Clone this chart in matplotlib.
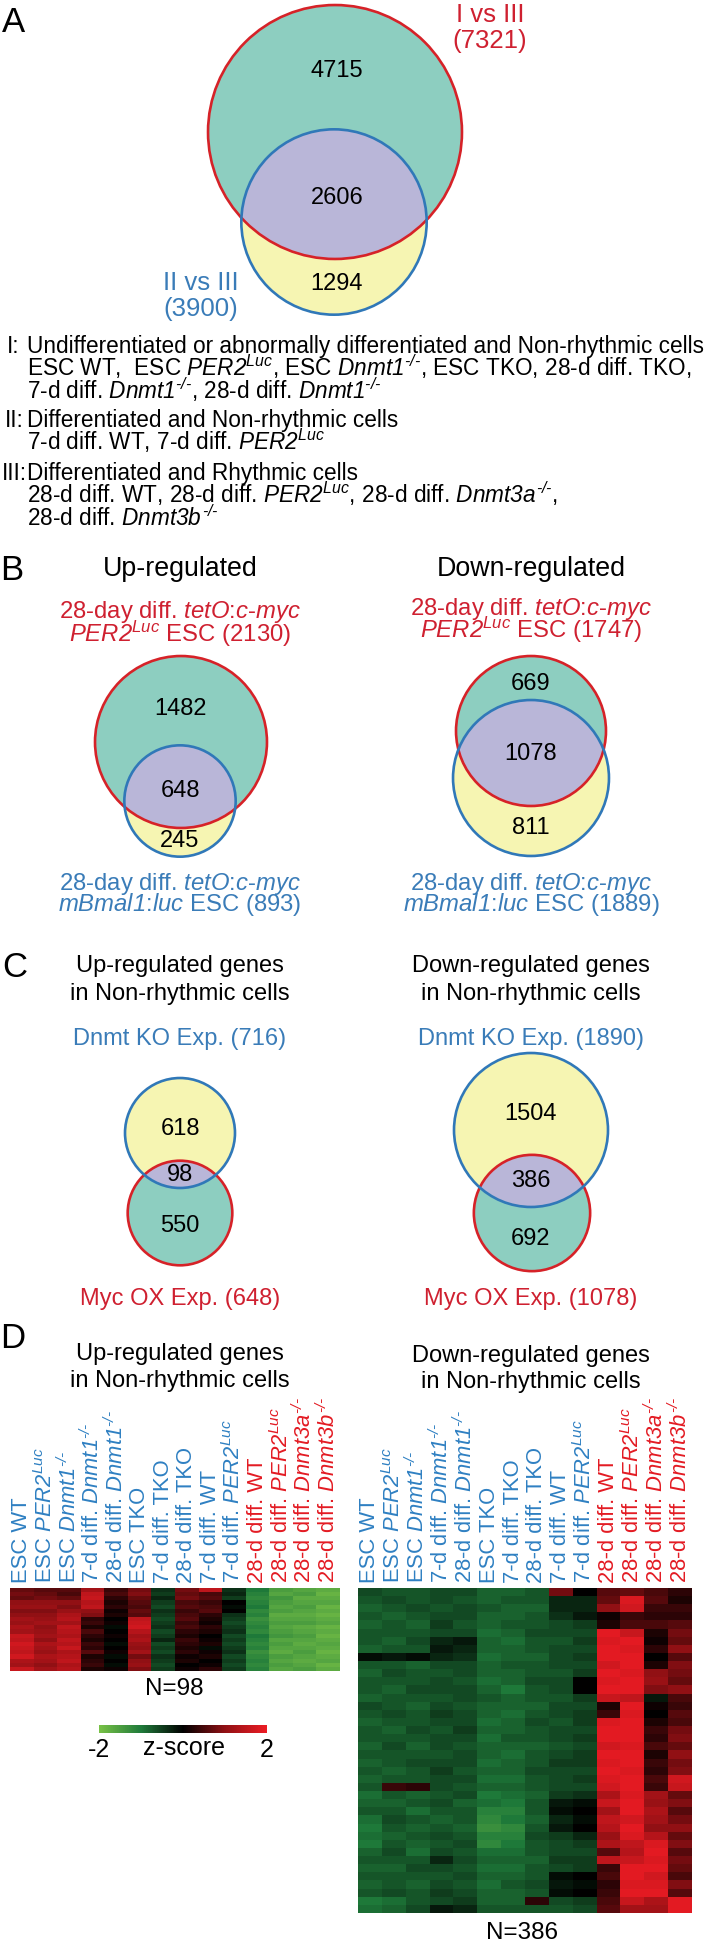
import numpy as np
import matplotlib.pyplot as plt
from matplotlib.patches import Circle
from matplotlib.colors import LinearSegmentedColormap

plt.rcParams['font.family'] = ['Liberation Sans', 'DejaVu Sans']
plt.rcParams['mathtext.fontset'] = 'custom'
# italic for everything inside $...$ (gene names, digits and superscripts)
plt.rcParams['mathtext.rm'] = 'Liberation Sans:italic'
plt.rcParams['mathtext.it'] = 'Liberation Sans:italic'
plt.rcParams['mathtext.bf'] = 'Liberation Sans:bold'
plt.rcParams['mathtext.sf'] = 'Liberation Sans:italic'

# ---- data ----
# venn counts: (only first set, overlap, only second set), totals (first, second)
a_counts = [4715, 2606, 1294]
a_totals = [7321, 3900]            # I vs III, II vs III
b_up_counts = [1482, 648, 245]
b_up_totals = [2130, 893]          # PER2Luc, mBmal1:luc
b_dn_counts = [669, 1078, 811]
b_dn_totals = [1747, 1889]
c_up_counts = [618, 98, 550]
c_up_totals = [716, 648]           # Dnmt KO, Myc OX
c_dn_counts = [1504, 386, 692]
c_dn_totals = [1890, 1078]

n_up = 98
n_down = 386

samples = ["ESC WT", "ESC PER2", "ESC Dnmt1", "7-d diff. Dnmt1", "28-d diff. Dnmt1",
           "ESC TKO", "7-d diff. TKO", "28-d diff. TKO", "7-d diff. WT", "7-d diff. PER2",
           "28-d diff. WT", "28-d diff. PER2", "28-d diff. Dnmt3a", "28-d diff. Dnmt3b"]
rhythmic = [False] * 10 + [True] * 4

# heatmap z-scores, one list per sample (row bands from top to bottom)
up_z = [
    [0.7, 0.8, 0.7, 1.0, 1.1, 0.9, 1.0, 1.2, 1.1, 1.3, 1.2, 1.6, 1.5, 1.7, 1.6, 1.5, 1.7, 1.3, 1.2, 1.6],
    [0.6, 0.7, 0.8, 1.0, 1.1, 0.9, 1.0, 1.1, 1.2, 1.0, 1.1, 1.2, 1.0, 1.3, 1.2, 1.1, 1.3, 1.2, 1.0, 1.2],
    [0.6, 0.5, 0.7, 1.0, 0.9, 1.1, 1.3, 1.4, 1.2, 1.5, 1.4, 1.3, 1.5, 1.4, 1.6, 1.3, 1.4, 1.5, 1.3, 1.4],
    [1.2, 1.5, 1.6, 1.4, 1.5, 1.0, 0.9, 0.3, 0.4, 0.2, 0.5, 0.3, 0.2, 0.4, 0.3, 0.6, 0.2, 0.3, 0.4, 0.2],
    [0.4, 0.5, 0.3, 0.2, 0.3, 0.1, 0.2, 0.0, 0.1, -0.1, 0.0, 0.1, 0.0, -0.1, 0.0, 0.1, -0.1, 0.0, -0.1, 0.1],
    [0.8, 0.9, 0.7, 0.6, 0.5, 0.7, 0.6, 1.5, 1.6, 1.7, 1.4, 1.2, 1.3, 1.1, 1.0, 1.2, 0.8, 1.0, 1.1, 0.9],
    [-0.4, -0.5, -0.3, -0.5, -0.6, -0.4, -0.5, -0.6, -0.5, -0.4, -0.6, -0.5, -0.3, -0.6, -0.5, -0.6, -0.4, -0.5, -0.6, -0.5],
    [0.8, 0.7, 0.8, 0.5, 0.6, 0.4, 0.5, 0.6, 0.4, 0.5, 0.3, 0.2, 0.4, 0.3, 0.2, 0.3, 0.1, 0.2, 0.0, 0.1],
    [1.5, 0.5, 0.6, 0.4, 0.5, 0.6, 0.3, 0.2, 0.1, 0.3, 0.2, 0.0, 0.1, 0.2, -0.1, 0.1, 0.2, 0.0, 0.1, 0.3],
    [-0.4, -0.3, -0.5, 0.0, -0.1, 0.0, -0.4, -0.5, -0.6, -0.5, -0.4, -0.6, -0.5, -0.6, -0.5, -0.4, -0.6, -0.5, -0.6, -0.5],
    [-1.0, -1.1, -1.2, -1.1, -1.0, -1.2, -1.1, -1.3, -1.2, -1.1, -1.2, -1.0, -1.1, -1.2, -1.1, -1.3, -1.2, -1.1, -1.2, -1.1],
    [-1.5, -1.6, -1.4, -1.5, -1.6, -1.5, -1.7, -1.6, -1.5, -1.6, -1.5, -1.4, -1.6, -1.5, -1.6, -1.7, -1.5, -1.6, -1.5, -1.6],
    [-1.6, -1.5, -1.7, -1.6, -1.5, -1.6, -1.7, -1.6, -1.5, -1.7, -1.6, -1.5, -1.6, -1.7, -1.6, -1.5, -1.6, -1.7, -1.6, -1.5],
    [-1.7, -1.8, -1.7, -1.6, -1.8, -1.7, -1.8, -1.7, -1.6, -1.8, -1.7, -1.8, -1.7, -1.6, -1.7, -1.8, -1.7, -1.6, -1.8, -1.7],
]
down_z = [
    [-0.6, -0.7, -0.8, -0.7, -0.8, -0.7, -0.7, -0.8, -0.1, -0.7, -0.8, -0.7, -0.7, -0.8, -0.6, -0.7, -0.8, -0.7, -0.7, -0.8,
     -0.7, -0.8, -0.7, -0.8, -0.7, -0.9, -0.8, -0.7, -0.9, -1.0, -0.9, -1.0, -0.8, -0.7, -0.8, -0.7, -0.8, -0.7, -1.0, -0.9],
    [-0.7, -0.6, -0.7, -0.8, -0.7, -0.7, -0.8, -0.7, -0.2, -0.7, -0.6, -0.7, -0.8, -0.7, -0.7, -0.6, -0.7, -0.8, -0.7, -0.6,
     -0.7, -0.7, -0.8, -0.7, 0.4, -0.7, -0.8, -0.7, -0.6, -0.7, -0.8, -0.7, -0.6, -0.7, -0.8, -0.7, -0.7, -0.6, -0.9, -0.8],
    [-0.7, -0.7, -0.6, -0.7, -0.8, -0.7, -0.6, -0.7, -0.1, -0.8, -0.7, -0.7, -0.6, -0.7, -0.8, -0.7, -0.7, -0.6, -0.7, -0.8,
     -0.7, -0.6, -0.7, -0.7, 0.3, -0.8, -0.7, -0.9, -0.7, -0.8, -0.7, -0.8, -0.9, -0.7, -0.6, -0.7, -0.8, -0.7, -0.7, -0.6],
    [-0.6, -0.6, -0.7, -0.6, -0.5, -0.6, -0.3, -0.2, -0.3, -0.6, -0.7, -0.6, -0.6, -0.7, -0.6, -0.5, -0.6, -0.7, -0.6, -0.6,
     -0.7, -0.6, -0.5, -0.6, -0.6, -0.7, -0.6, -0.7, -0.8, -0.7, -0.6, -0.7, -0.6, -0.3, -0.6, -0.7, -0.6, -0.5, -0.6, -0.2],
    [-0.6, -0.7, -0.6, -0.6, -0.7, -0.6, -0.2, -0.3, -0.4, -0.6, -0.6, -0.7, -0.6, -0.6, -0.7, -0.6, -0.6, -0.5, -0.6, -0.7,
     -0.6, -0.6, -0.7, -0.6, -0.7, -0.6, -0.8, -0.7, -0.7, -0.8, -0.7, -0.6, -0.7, -0.6, -0.7, -0.6, -0.7, -0.6, -0.5, -0.3],
    [-0.8, -0.8, -0.7, -0.8, -0.8, -0.9, -0.8, -0.8, -0.9, -0.8, -0.8, -0.9, -0.8, -0.7, -0.8, -0.8, -0.9, -0.8, -0.9, -0.8,
     -0.8, -0.9, -0.8, -0.9, -0.8, -1.0, -0.9, -1.1, -1.2, -1.3, -1.1, -1.2, -0.9, -0.8, -0.9, -0.8, -0.9, -0.8, -0.8, -0.7],
    [-0.8, -0.7, -0.8, -0.8, -0.7, -0.8, -0.9, -0.8, -0.8, -0.7, -0.8, -0.8, -1.0, -0.8, -0.8, -0.9, -0.8, -0.8, -0.7, -0.8,
     -0.9, -0.8, -0.8, -0.9, -0.8, -0.9, -1.0, -1.1, -1.0, -1.2, -1.1, -1.0, -0.9, -0.8, -0.9, -0.8, -0.7, -0.8, -0.8, -0.7],
    [-0.7, -0.7, -0.8, -0.7, -0.7, -0.6, -0.7, -0.7, -0.8, -0.7, -0.7, -0.6, -0.7, -0.7, -0.8, -0.7, -0.6, -0.7, -0.7, -0.8,
     -0.7, -0.7, -0.6, -0.7, -0.7, -0.8, -0.7, -0.7, -0.8, -0.7, -0.6, -0.7, -0.7, -0.8, -0.7, -0.7, -0.6, -0.7, 0.3, -0.7],
    [0.8, -0.3, -0.3, -0.4, -0.6, -0.6, -0.7, -0.6, -0.6, -0.6, -0.7, -0.6, -0.6, -0.7, -0.6, -0.6, -0.7, -0.6, -0.6, -0.7,
     -0.6, -0.5, -0.6, -0.6, -0.6, -0.5, -0.2, -0.1, -0.3, -0.2, -0.5, -0.6, -0.6, -0.5, -0.6, -0.1, -0.2, -0.1, -0.6, -0.7],
    [0.0, -0.3, -0.3, -0.2, -0.5, -0.6, -0.5, -0.6, -0.5, -0.6, -0.5, 0.0, 0.0, -0.5, -0.6, -0.5, -0.5, -0.6, -0.5, -0.6,
     -0.5, -0.5, -0.6, -0.5, -0.6, -0.4, -0.1, 0.0, -0.1, 0.0, -0.3, -0.5, -0.6, -0.5, -0.5, 0.0, -0.1, 0.0, -0.5, -0.6],
    [0.6, 0.7, 1.0, 0.1, 0.2, 1.9, 1.8, 1.9, 1.9, 1.7, 1.9, 1.8, 1.9, 1.6, 0.2, 0.4, 1.8, 1.9, 1.9, 1.7,
     1.9, 1.8, 1.9, 1.8, 1.7, 1.3, 1.6, 1.2, 1.5, 1.4, 1.1, 1.3, 0.6, 1.5, 0.4, 0.5, 0.3, 0.4, 0.5, 0.6],
    [0.7, 1.8, 1.7, 0.4, 0.5, 1.6, 1.9, 1.8, 1.9, 1.9, 1.8, 1.9, 1.9, 1.5, 1.9, 1.8, 1.9, 1.9, 1.9, 1.8,
     1.9, 1.9, 1.8, 1.9, 1.9, 1.8, 1.9, 1.9, 1.7, 1.9, 1.8, 1.5, 1.4, 1.6, 1.9, 1.9, 1.8, 1.9, 1.6, 1.2],
    [0.5, 0.6, 0.4, 0.3, 0.5, 0.2, 0.1, 0.3, 0.0, 0.2, 1.0, 1.1, 0.9, -0.2, 0.1, 0.0, 0.2, 0.4, 0.3, 0.5,
     0.2, 0.4, 0.3, 0.5, 0.4, 1.2, 1.1, 1.3, 1.2, 1.0, 1.4, 1.8, 1.9, 1.8, 1.9, 1.7, 1.8, 1.9, 1.3, 1.2],
    [0.3, 0.2, 0.4, 0.3, 0.6, 0.8, 0.7, 1.0, 0.6, 0.9, 0.8, 0.7, 1.0, 0.5, 0.4, 0.6, 0.5, 0.8, 0.9, 0.7,
     1.0, 0.8, 0.9, 1.7, 1.6, 0.7, 0.9, 0.6, 0.8, 1.0, 0.7, 0.9, 0.6, 0.8, 0.7, 0.5, 0.9, 0.6, 1.9, 1.9],
]

# ---- styles ----
RED = '#cf2030'
BLUE = '#3a7cb8'
HRED = '#e31b23'
HBLUE = '#2f80c2'
TEAL = '#8dcec0'
LAV = '#b9b6d8'
YEL = '#f6f5b2'
EDGE_R = '#d62228'
EDGE_B = '#3078b8'

zcmap = LinearSegmentedColormap.from_list(
    'gkr', ['#78c146', '#1f7a3a', '#000000', '#901014', '#ec1c24'])

W, H = 716, 1942
fig = plt.figure(figsize=(W / 100, H / 100), dpi=100)
ax = fig.add_axes([0, 0, 1, 1])
ax.set_xlim(0, W)
ax.set_ylim(H, 0)
ax.axis('off')

PER2 = r"$PER2^{Luc}$"
MYC = r"$tetO$:$c$-$myc$"
BMAL = r"$mBmal1$:$luc$"


def ko(g):
    # short hyphens (U+2010) so the superscript stays "-/-" and not minus signs
    return "$" + g + "^{\u2010/\u2010}$"


def txt(x, y, s, size, color='black', ha='center'):
    ax.text(x, y, s, fontsize=size, color=color, ha=ha, va='baseline')


def venn(red_total, blue_total, red_xy, blue_xy, scale):
    rr = scale * np.sqrt(red_total)
    rb = scale * np.sqrt(blue_total)
    ax.add_patch(Circle(blue_xy, rb, fc=YEL, ec='none', zorder=1))
    red_fill = Circle(red_xy, rr, fc=TEAL, ec='none', zorder=2)
    ax.add_patch(red_fill)
    inter = Circle(blue_xy, rb, fc=LAV, ec='none', zorder=3)
    ax.add_patch(inter)
    inter.set_clip_path(red_fill)
    ax.add_patch(Circle(red_xy, rr, fc='none', ec=EDGE_R, lw=1.9, zorder=4))
    ax.add_patch(Circle(blue_xy, rb, fc='none', ec=EDGE_B, lw=1.9, zorder=5))


NUM = 17

# ---- panel A ----
txt(2, 32, 'A', 25, ha='left')
venn(a_totals[0], a_totals[1], (335, 132), (334, 222), 1.484)
for v, y in zip(a_counts, [77, 204, 290]):
    txt(337, y, str(v), NUM)
txt(490, 22, 'I vs III', 18.5, RED)
txt(490, 48, f'({a_totals[0]})', 18.5, RED)
txt(201, 290, 'II vs III', 18.5, BLUE)
txt(201, 316, f'({a_totals[1]})', 18.5, BLUE)

TS = 16.3
txt(7, 353, 'I:', TS, ha='left')
txt(27, 353, 'Undifferentiated or abnormally differentiated and Non-rhythmic cells', TS, ha='left')
txt(27, 376, 'ESC WT,  ESC ' + PER2 + ', ESC ' + ko('Dnmt1') + ', ESC TKO, 28-d diff. TKO,', TS, ha='left')
txt(27, 399, '7-d diff. ' + ko('Dnmt1') + ', 28-d diff. ' + ko('Dnmt1'), TS, ha='left')
txt(5, 427, 'II:', TS, ha='left')
txt(27, 427, 'Differentiated and Non-rhythmic cells', TS, ha='left')
txt(27, 450, '7-d diff. WT, 7-d diff. ' + PER2, TS, ha='left')
txt(2, 480, 'III:', TS, ha='left')
txt(27, 480, 'Differentiated and Rhythmic cells', TS, ha='left')
txt(27, 503, '28-d diff. WT, 28-d diff. ' + PER2 + ', 28-d diff. ' + ko('Dnmt3a') + ',', TS, ha='left')
txt(27, 526, '28-d diff. ' + ko('Dnmt3b'), TS, ha='left')

# ---- panel B ----
HS = 19.3
LS = 17.2
txt(0, 580, 'B', 25, ha='left')
txt(180, 576, 'Up-regulated', HS)
txt(531, 576, 'Down-regulated', HS)
txt(180, 618, '28-day diff. ' + MYC, LS, RED)
txt(180, 642, PER2 + f' ESC ({b_up_totals[0]})', LS, RED)
txt(531, 615, '28-day diff. ' + MYC, LS, RED)
txt(531, 638, PER2 + f' ESC ({b_dn_totals[0]})', LS, RED)
venn(b_up_totals[0], b_up_totals[1], (181, 742), (180, 801), 1.863)
venn(b_dn_totals[0], b_dn_totals[1], (531, 731), (531, 778), 1.794)
for v, y in zip(b_up_counts, [715, 797, 847]):
    txt(180, y, str(v), NUM)
for v, y in zip(b_dn_counts, [690, 760, 834]):
    txt(531, y, str(v), NUM)
txt(180, 890, '28-day diff. ' + MYC, LS, BLUE)
txt(180, 911, BMAL + f' ESC ({b_up_totals[1]})', LS, BLUE)
txt(531, 890, '28-day diff. ' + MYC, LS, BLUE)
txt(531, 911, BMAL + f' ESC ({b_dn_totals[1]})', LS, BLUE)

# ---- panel C ----
CS = 17
txt(2, 977, 'C', 25, ha='left')
txt(180, 972, 'Up-regulated genes', CS)
txt(180, 1000, 'in Non-rhythmic cells', CS)
txt(531, 972, 'Down-regulated genes', CS)
txt(531, 1000, 'in Non-rhythmic cells', CS)
txt(180, 1045, f'Dnmt KO Exp. ({c_up_totals[0]})', CS, BLUE)
txt(531, 1045, f'Dnmt KO Exp. ({c_dn_totals[0]})', CS, BLUE)
venn(c_up_totals[1], c_up_totals[0], (180, 1213), (180, 1133), 2.055)
venn(c_dn_totals[1], c_dn_totals[0], (532, 1213), (531, 1130), 1.771)
for v, y in zip(c_up_counts, [1135, 1181, 1232]):
    txt(180, y, str(v), NUM)
for v, y in zip(c_dn_counts, [1120, 1187, 1245]):
    txt(531, y, str(v), NUM)
txt(180, 1305, f'Myc OX Exp. ({c_up_totals[1]})', CS, RED)
txt(531, 1305, f'Myc OX Exp. ({c_dn_totals[1]})', CS, RED)

# ---- panel D ----
txt(0, 1348, 'D', 25, ha='left')
txt(180, 1360, 'Up-regulated genes', CS)
txt(180, 1387, 'in Non-rhythmic cells', CS)
txt(531, 1362, 'Down-regulated genes', CS)
txt(531, 1388, 'in Non-rhythmic cells', CS)


def sample_label(s):
    for gene in ['PER2', 'Dnmt1', 'Dnmt3a', 'Dnmt3b']:
        if s.endswith(gene):
            mark = PER2 if gene == 'PER2' else ko(gene)
            return s[:-len(gene)] + mark
    return s


def heatmap(rect, z):
    hax = fig.add_axes([rect[0] / W, 1 - rect[3] / H,
                        (rect[2] - rect[0]) / W, (rect[3] - rect[1]) / H])
    im = hax.imshow(np.array(z).T, cmap=zcmap, vmin=-2, vmax=2,
                    aspect='auto', interpolation='nearest')
    hax.set_xticks(range(len(samples)))
    hax.set_xticklabels([sample_label(s) for s in samples], rotation=90,
                        fontsize=15.8, ha='center', va='bottom')
    hax.set_yticks([])
    hax.tick_params(axis='x', top=True, bottom=False, labeltop=True,
                    labelbottom=False, length=0, pad=3.5)
    for lbl, rh in zip(hax.get_xticklabels(), rhythmic):
        lbl.set_color(HRED if rh else HBLUE)
    for sp in hax.spines.values():
        sp.set_visible(False)
    return im


im = heatmap((10, 1588, 340, 1671), up_z)
heatmap((358, 1588, 692, 1913), down_z)
txt(174, 1695, f'N={n_up}', 17.5)
txt(522, 1939, f'N={n_down}', 17.5)

cax = fig.add_axes([99 / W, 1 - 1733 / H, 168 / W, 8 / H])
cb = fig.colorbar(im, cax=cax, orientation='horizontal')
cb.outline.set_visible(False)
cb.set_ticks([-2, 2])
cb.set_ticklabels(['-2', '2'])
cax.tick_params(length=0, pad=3.5, labelsize=18)
txt(184, 1755, 'z-score', 18)

fig.savefig('out.png', dpi=100)
